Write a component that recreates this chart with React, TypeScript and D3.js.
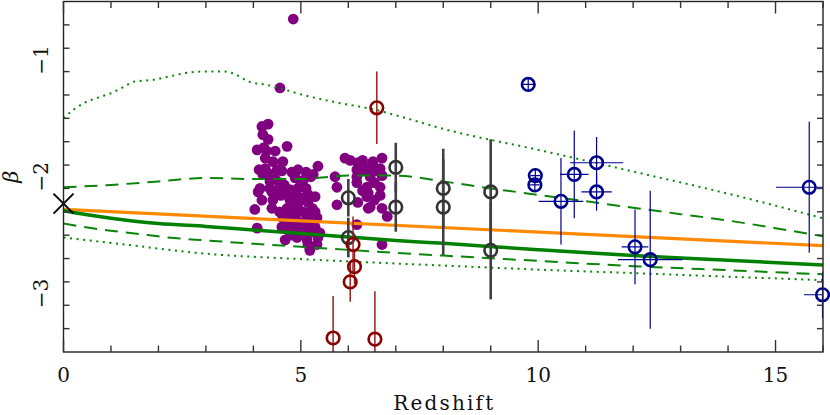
import React from "react";
import * as d3 from "d3";

const WIDTH = 830;
const HEIGHT = 415;
const PLOT = { left: 63.5, right: 823, top: 1.5, bottom: 352 };
const FONT = "'DejaVu Serif', serif";

const X_DOMAIN = [0, 16];
const Y_DOMAIN = [-3.5, -0.5];
const X_MAJOR = [0, 5, 10, 15];
const X_MINOR = d3.range(0, 17);
const Y_MAJOR = [-3, -2, -1];
const Y_MINOR = d3.range(1, 15).map((i) => -3.5 + i * 0.2);
const X_LABEL = "Redshift";
const Y_LABEL = "β";

// model curves, [z, beta]
const orangeFit = [[0, -2.28], [16, -2.59]];
const modelMedian = [
  [0, -2.29], [0.5, -2.325], [1, -2.355], [1.5, -2.38], [2, -2.4], [3, -2.425],
  [4, -2.455], [5, -2.485], [6, -2.515], [7, -2.545], [8, -2.57], [10, -2.625],
  [12, -2.675], [14, -2.715], [16, -2.755],
];
const modelDashHi = [
  [0, -2.09], [1, -2.07], [2, -2.04], [3, -2.01], [4, -2.02], [5, -2.02],
  [6, -1.99], [7, -1.99], [8, -2.04], [9, -2.1], [10, -2.155], [11, -2.21],
  [12, -2.265], [13, -2.32], [14, -2.375], [15, -2.44], [16, -2.51],
];
const modelDashLo = [
  [0, -2.4], [0.75, -2.45], [1.5, -2.485], [2.2, -2.52], [3, -2.545], [5, -2.6],
  [8, -2.675], [10, -2.72], [12, -2.765], [14, -2.8], [16, -2.835],
];
const modelDotHi = [
  [0, -1.5], [0.2, -1.43], [0.45, -1.365], [0.75, -1.32], [1, -1.285], [1.25, -1.235],
  [1.5, -1.185], [1.9, -1.17], [2.3, -1.135], [2.6, -1.11], [2.9, -1.1], [3.4, -1.1],
  [3.6, -1.12], [3.9, -1.185], [4.3, -1.215], [4.55, -1.24], [5, -1.295], [5.7, -1.36],
  [6.6, -1.43], [7.1, -1.485], [8, -1.59], [10, -1.77], [12, -1.955], [14.25, -2.17],
  [16, -2.355],
];
const modelDotLo = [
  [0, -2.52], [0.75, -2.555], [1.5, -2.59], [2.2, -2.625], [2.9, -2.655], [5, -2.705],
  [8, -2.76], [10, -2.795], [12, -2.825], [14, -2.855], [16, -2.885],
];

const localValue = [0, -2.23];

// filled purple galaxies, [z, beta]
const purpleDots = [
  [4.31, -1.55], [4.18, -1.57], [4.2, -1.64], [4.31, -1.68], [4.08, -1.77], [4.22, -1.75],
  [4.46, -1.78], [4.71, -1.74], [4.25, -1.84], [4.41, -1.87], [4.62, -1.87], [4.12, -1.94],
  [4.31, -1.97], [4.5, -1.94], [4.81, -1.96], [4.94, -1.94], [5.11, -1.96], [5.26, -1.98],
  [5.36, -1.91], [4.88, -2.01], [5.05, -2.03], [5.21, -2.0], [4.46, -2.02], [4.14, -2.1],
  [4.35, -2.1], [4.1, -2.13], [4.39, -2.13], [4.77, -2.11], [4.94, -2.1], [5.11, -2.1],
  [5.3, -2.17], [4.18, -2.2], [4.41, -2.2], [4.77, -2.2], [5.05, -2.18], [4.03, -2.28],
  [4.39, -2.27], [4.71, -2.27], [4.94, -2.27], [5.24, -2.27], [4.62, -2.35], [4.88, -2.34],
  [5.13, -2.34], [5.34, -2.35], [4.6, -2.43], [4.84, -2.41], [5.09, -2.42], [5.3, -2.43],
  [4.08, -2.44], [4.77, -2.47], [5.02, -2.47], [5.24, -2.47], [5.4, -2.48], [4.92, -2.52],
  [5.13, -2.54], [5.36, -2.52], [5.15, -2.58], [5.34, -2.58], [4.65, -2.07], [4.9, -2.16],
  [4.58, -2.16], [5.15, -2.22], [4.77, -2.33], [4.98, -2.39], [4.67, -2.54], [5.19, -2.63],
  [4.25, -1.93], [4.56, -1.24], [4.84, -0.65],
  [4.55, -2.05], [4.7, -2.13], [5.0, -2.2], [4.85, -2.25], [5.05, -2.3], [4.7, -2.4],
  [4.95, -2.45], [5.2, -2.38], [4.55, -2.3], [4.35, -2.04], [4.6, -1.95], [5.0, -2.05],
  [5.15, -2.15], [4.8, -2.5], [5.3, -2.3], [4.5, -2.12], [4.28, -1.78], [4.2, -1.98],
  [5.93, -1.84], [6.04, -1.86], [6.2, -1.88], [6.52, -1.87], [6.71, -1.84], [6.42, -1.92],
  [6.18, -1.94], [6.67, -1.93], [5.72, -2.0], [6.18, -2.0], [6.46, -2.0], [6.71, -1.99],
  [5.76, -2.09], [6.18, -2.05], [6.39, -2.09], [6.67, -2.09], [6.39, -2.17], [6.67, -2.16],
  [5.76, -2.24], [6.2, -2.22], [6.46, -2.26], [6.71, -2.27], [6.82, -2.34], [6.42, -2.14],
  [6.18, -2.41], [6.71, -2.58], [6.42, -2.27],
  [6.3, -1.95], [6.55, -2.05], [6.3, -2.12], [6.55, -2.2], [6.6, -1.95], [6.3, -1.86],
];

// open grey circles, [z, beta, beta error]
const greyPoints = [
  [6, -2.18, 0.16], [6, -2.52, 0.17],
  [7, -1.92, 0.21], [7, -2.26, 0.21],
  [8, -2.1, 0.34], [8, -2.26, 0.41],
  [9, -2.13, 0.45], [9, -2.63, 0.42],
];

// open dark red circles, [z, beta, beta error]
const redPoints = [
  [6.6, -1.41, 0.31], [6.1, -2.58, 0.24], [6.13, -2.77, 0.15], [6.04, -2.9, 0.17],
  [5.68, -3.38, 0.36], [6.56, -3.39, 0.41],
];

// open blue circles, [z, beta, z error, beta error]
const bluePoints = [
  [9.79, -1.21, 0.15, 0.06], [9.94, -1.99, 0.1, 0.06], [9.93, -2.07, 0.1, 0.06],
  [10.48, -2.21, 0.47, 0.37], [10.76, -1.98, 0.3, 0.375], [11.23, -1.88, 0.56, 0.22],
  [11.23, -2.13, 0.32, 0.16], [12.04, -2.6, 0.28, 0.32], [12.36, -2.71, 0.68, 0.59],
  [15.71, -2.09, 0.7, 0.56], [15.99, -3.01, 0.39, 0.2],
];

export default function App() {
  const x = d3.scaleLinear().domain(X_DOMAIN).range([PLOT.left, PLOT.right]);
  const y = d3.scaleLinear().domain(Y_DOMAIN).range([PLOT.bottom, PLOT.top]);
  const line = d3
    .line<number[]>()
    .x((d) => x(d[0]))
    .y((d) => y(d[1]))
    .curve(d3.curveMonotoneX);

  const green = "#0a850a";
  const cx = x(localValue[0]);
  const cy = y(localValue[1]);

  return (
    <svg
      width={WIDTH}
      height={HEIGHT}
      style={{ position: "absolute", left: 0, top: 0, background: "#fff" }}
      fontFamily={FONT}
    >
      <defs>
        <clipPath id="plot-clip">
          <rect
            x={PLOT.left}
            y={PLOT.top}
            width={PLOT.right - PLOT.left}
            height={PLOT.bottom - PLOT.top}
          />
        </clipPath>
      </defs>

      {/* purple galaxies */}
      <g fill="#800080">
        {purpleDots.map((d, i) => (
          <circle key={i} cx={x(d[0])} cy={y(d[1])} r={5.4} />
        ))}
      </g>

      {/* model curves */}
      <g clipPath="url(#plot-clip)" fill="none">
        <path d={line(modelDotHi) ?? ""} stroke={green} strokeWidth={2} strokeDasharray="2,4.6" />
        <path d={line(modelDotLo) ?? ""} stroke={green} strokeWidth={2} strokeDasharray="2,4.6" />
        <path d={line(modelDashHi) ?? ""} stroke={green} strokeWidth={2} strokeDasharray="13,8" />
        <path d={line(modelDashLo) ?? ""} stroke={green} strokeWidth={2} strokeDasharray="13,8" />
        <path d={line(orangeFit) ?? ""} stroke="#ff8a00" strokeWidth={3.2} />
        <path d={line(modelMedian) ?? ""} stroke="#008000" strokeWidth={3.5} />
      </g>

      {/* local value */}
      <g stroke="#000" strokeWidth={2}>
        <line x1={cx - 10} y1={cy - 10} x2={cx + 10} y2={cy + 10} />
        <line x1={cx - 10} y1={cy + 10} x2={cx + 10} y2={cy - 10} />
      </g>

      {/* grey points */}
      <g clipPath="url(#plot-clip)" stroke="#404040" strokeWidth={2.6}>
        {greyPoints.map((d, i) => (
          <line key={i} x1={x(d[0])} x2={x(d[0])} y1={y(d[1] + d[2])} y2={y(d[1] - d[2])} />
        ))}
      </g>
      <g fill="none" stroke="#333" strokeWidth={2.6}>
        {greyPoints.map((d, i) => (
          <circle key={i} cx={x(d[0])} cy={y(d[1])} r={6.3} />
        ))}
      </g>

      {/* red points */}
      <g clipPath="url(#plot-clip)" stroke="#9a2020" strokeWidth={1.5}>
        {redPoints.map((d, i) => (
          <line key={i} x1={x(d[0])} x2={x(d[0])} y1={y(d[1] + d[2])} y2={y(d[1] - d[2])} />
        ))}
      </g>
      <g fill="none" stroke="#8b0000" strokeWidth={2.6}>
        {redPoints.map((d, i) => (
          <circle key={i} cx={x(d[0])} cy={y(d[1])} r={6.3} />
        ))}
      </g>

      {/* blue points */}
      <g clipPath="url(#plot-clip)" stroke="#000090" strokeWidth={1.2}>
        {bluePoints.map((d, i) => (
          <g key={i}>
            <line x1={x(d[0])} x2={x(d[0])} y1={y(d[1] + d[3])} y2={y(d[1] - d[3])} />
            <line x1={x(d[0] - d[2])} x2={x(d[0] + d[2])} y1={y(d[1])} y2={y(d[1])} />
          </g>
        ))}
      </g>
      <g fill="none" stroke="#000090" strokeWidth={2.6}>
        {bluePoints.map((d, i) => (
          <circle key={i} cx={x(d[0])} cy={y(d[1])} r={6.3} />
        ))}
      </g>

      {/* frame and ticks */}
      <rect
        x={PLOT.left}
        y={PLOT.top}
        width={PLOT.right - PLOT.left}
        height={PLOT.bottom - PLOT.top}
        fill="none"
        stroke="#222"
        strokeWidth={1.4}
      />
      <g stroke="#333" strokeWidth={1.4}>
        {X_MINOR.map((v) => {
          const len = X_MAJOR.includes(v) ? 12 : 6.5;
          return (
            <g key={"x" + v}>
              <line x1={x(v)} x2={x(v)} y1={PLOT.bottom} y2={PLOT.bottom - len} />
              <line x1={x(v)} x2={x(v)} y1={PLOT.top} y2={PLOT.top + len} />
            </g>
          );
        })}
        {Y_MINOR.map((v) => {
          const major = Y_MAJOR.some((m) => Math.abs(m - v) < 1e-6);
          const len = major ? 12 : 6;
          return (
            <g key={"y" + v}>
              <line x1={PLOT.left} x2={PLOT.left + len} y1={y(v)} y2={y(v)} />
              <line x1={PLOT.right} x2={PLOT.right - len} y1={y(v)} y2={y(v)} />
            </g>
          );
        })}
      </g>

      {/* tick labels */}
      <g fontSize={20} fill="#111" textAnchor="middle">
        {X_MAJOR.map((v) => (
          <text key={v} x={x(v)} y={382}>
            {v}
          </text>
        ))}
        {Y_MAJOR.map((v) => (
          <text key={v} transform={`translate(48,${y(v)}) rotate(-90)`}>
            {"\u2212" + Math.abs(v)}
          </text>
        ))}
      </g>

      {/* axis titles */}
      <text
        x={(PLOT.left + PLOT.right) / 2}
        y={410}
        fontSize={20}
        textAnchor="middle"
        fill="#111"
        textLength={100}
        lengthAdjust="spacing"
      >
        {X_LABEL}
      </text>
      <text
        transform={`translate(18,${(PLOT.top + PLOT.bottom) / 2}) rotate(-90)`}
        fontSize={21}
        fontStyle="italic"
        textAnchor="middle"
        fill="#111"
      >
        {Y_LABEL}
      </text>
    </svg>
  );
}
